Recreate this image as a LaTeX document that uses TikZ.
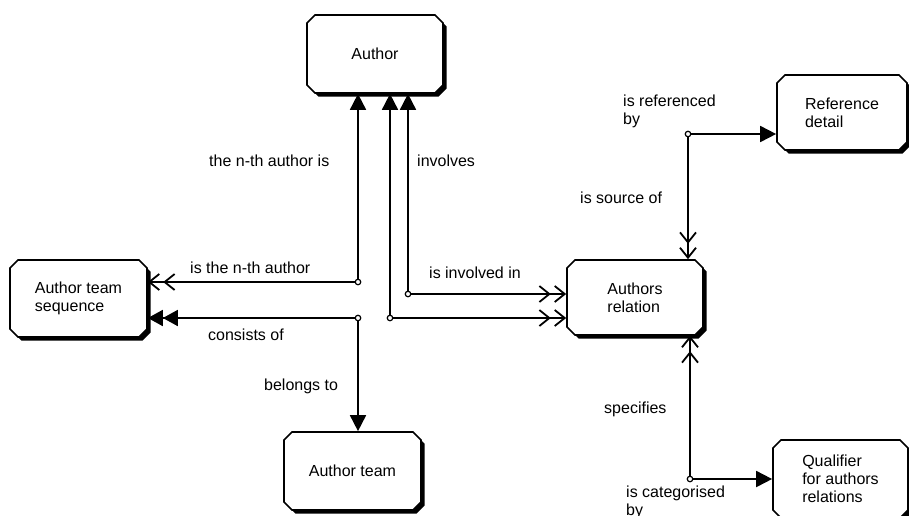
\documentclass[tikz,border=0pt]{standalone}
\usepackage{fontspec}
\setmainfont{Liberation Sans}
\usetikzlibrary{arrows.meta,shapes.misc,shadows}
\newcommand\dgmfont{\fontsize{16}{18}\selectfont}

\begin{document}
\begin{tikzpicture}[x=1pt,y=-1pt,
  entity/.style={chamfered rectangle,
    chamfered rectangle xsep=4pt, chamfered rectangle ysep=4pt,
    draw, line width=1.7pt, fill=white, inner sep=0pt,
    align=left, font=\dgmfont,
    drop shadow={shadow xshift=3.5pt, shadow yshift=-3.5pt, fill=black, opacity=1}},
  junc/.style={circle, draw, fill=white, line width=1.2pt, inner sep=0pt, minimum size=5.5pt},
  link/.style={line width=1.8pt},
  tipfill/.style={link, -{Triangle[length=16pt,width=16pt]}},
  tipfilltwo/.style={link, -{Triangle[length=15pt,width=16pt,sep=0pt]Triangle[length=15pt,width=16pt]}},
  tipopentwo/.style={link, -{Straight Barb[length=10pt,width=16pt,sep=3pt]Straight Barb[length=10pt,width=16pt]}},
  rolelabel/.style={anchor=base west, font=\dgmfont, inner sep=0pt, align=left}
]
\useasboundingbox (0,0) rectangle (909,515);
\clip (0,0) rectangle (909,515);

% entity boxes
\node[entity, minimum width=136pt, minimum height=78pt] (author) at (375,54) {Author};
\node[entity, minimum width=137pt, minimum height=77pt] (ats) at (78.5,298.5) {Author team\\sequence};
\node[entity, minimum width=136pt, minimum height=75pt] (rel) at (635,297.5) {Authors\\relation};
\node[entity, minimum width=137pt, minimum height=78pt] (team) at (352.5,471) {Author team};
\node[entity, minimum width=130pt, minimum height=75pt] (refd) at (842,112.5) {Reference\\detail};
\node[entity, minimum width=135pt, minimum height=78pt] (qual) at (840.5,479) {Qualifier\\for authors\\relations};

% relationship junctions
\node[junc] (j1) at (358,282) {};
\node[junc] (j2) at (358,318) {};
\node[junc] (j3) at (390,318) {};
\node[junc] (j4) at (408,294) {};
\node[junc] (j5) at (688,134) {};
\node[junc] (j6) at (690,479) {};

% connectors
\draw[tipfill] (j1) -- (j1 |- author.south);
\draw[tipopentwo] (j1) -- (j1 -| ats.east);

\draw[tipfilltwo] (j2) -- (j2 -| ats.east);
\draw[tipfill] (j2) -- (j2 |- team.north);

\draw[tipfill] (j3) -- (j3 |- author.south);
\draw[tipopentwo] (j3) -- (j3 -| rel.west);

\draw[tipfill] (j4) -- (j4 |- author.south);
\draw[tipopentwo] (j4) -- (j4 -| rel.west);

\draw[tipfill] (j5) -- (j5 -| refd.west);
\draw[tipopentwo] (j5) -- (j5 |- rel.north);

\draw[tipopentwo] (j6) -- (j6 |- rel.south);
\draw[tipfill] (j6) -- (j6 -| qual.west);

% role labels (base anchor sits on the last line)
\node[rolelabel] (l1) at (209,166) {the n-th author is};
\node[rolelabel] (l2) at (190,273) {is the n-th author};
\node[rolelabel] (l3) at (208,340) {consists of};
\node[rolelabel] (l4) at (264,390) {belongs to};
\node[rolelabel] (l5) at (417,166) {involves};
\node[rolelabel] (l6) at (429,278) {is involved in};
\node[rolelabel] (l7) at (623,124) {is referenced\\by};
\node[rolelabel] (l8) at (580,203) {is source of};
\node[rolelabel] (l9) at (604,413) {specifies};
\node[rolelabel] (l10) at (626,515) {is categorised\\by};
\end{tikzpicture}
\end{document}
